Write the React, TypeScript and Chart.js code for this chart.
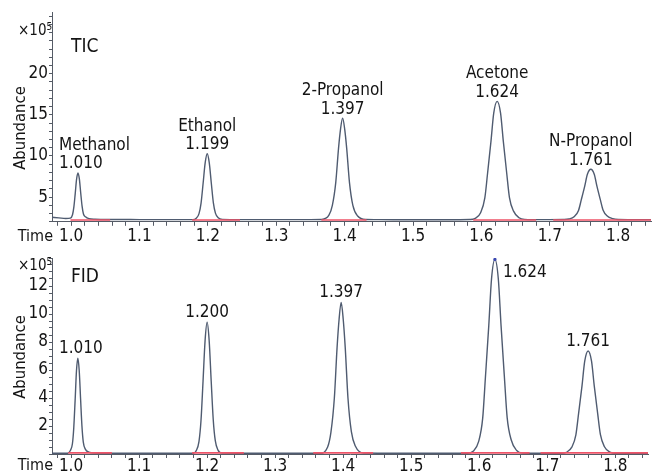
import React, { useEffect, useRef } from 'react';
import { Chart, registerables } from 'chart.js';

Chart.register(...registerables);

const FONT = "'DejaVu Sans Condensed', 'Liberation Sans Narrow', sans-serif";
const TEXT = '#141414';
const AXIS = '#555b66';
const TRACE = '#4f5b70';
const BASE_RED = '#ee5468';

// ---- axis tick labels ----
const X_TICK_VALUES = [1.0, 1.1, 1.2, 1.3, 1.4, 1.5, 1.6, 1.7, 1.8];
const X_TICK_LABELS = ['1.0', '1.1', '1.2', '1.3', '1.4', '1.5', '1.6', '1.7', '1.8'];
const TIC_Y_TICKS = [5, 10, 15, 20];
const FID_Y_TICKS = [2, 4, 6, 8, 10, 12];

// ---- peaks ----
const PEAK_NAMES = ['Methanol', 'Ethanol', '2-Propanol', 'Acetone', 'N-Propanol'];
const TIC_PEAK_RT = ['1.010', '1.199', '1.397', '1.624', '1.761'];
const FID_PEAK_RT = ['1.010', '1.200', '1.397', '1.624', '1.761'];
const FID_MARKED_PEAK = '1.624';

// ---- TIC trace (time in min, abundance x10^5) ----
const TIC_TIME = [
  0.972, 0.982, 0.992, 0.999, 1.002, 1.004, 1.006, 1.008, 1.010, 1.012, 1.014, 1.016, 1.018, 1.021, 1.026, 1.035,
  1.06, 1.10, 1.15, 1.178,
  1.183, 1.187, 1.190, 1.193, 1.196, 1.199, 1.202, 1.205, 1.208, 1.211, 1.215, 1.221,
  1.25, 1.30, 1.35,
  1.366, 1.377, 1.382, 1.387, 1.391, 1.394, 1.397, 1.400, 1.403, 1.407, 1.412, 1.419, 1.431,
  1.45, 1.50, 1.55,
  1.583, 1.591, 1.599, 1.605, 1.609, 1.614, 1.618, 1.623, 1.628, 1.632, 1.637, 1.641, 1.647, 1.655, 1.663,
  1.69,
  1.720, 1.728, 1.736, 1.742, 1.746, 1.751, 1.755, 1.760, 1.765, 1.769, 1.774, 1.778, 1.784, 1.792, 1.800,
  1.82, 1.848,
];
const TIC_ABUNDANCE = [
  2.55, 2.48, 2.40, 2.45, 2.85, 3.81, 5.46, 7.21, 7.95, 7.21, 5.50, 3.90, 2.95, 2.60, 2.38, 2.31,
  2.28, 2.27, 2.26, 2.26,
  2.44, 3.00, 4.28, 6.68, 9.16, 10.28, 9.16, 6.68, 4.30, 3.05, 2.50, 2.30,
  2.27, 2.26, 2.26,
  2.28, 2.80, 4.00, 6.80, 10.90, 13.30, 14.60, 13.30, 10.90, 6.80, 4.00, 2.70, 2.28,
  2.26, 2.25, 2.25,
  2.28, 2.42, 3.14, 4.90, 7.90, 11.80, 15.20, 16.64, 15.20, 11.80, 7.90, 4.95, 3.30, 2.50, 2.30,
  2.26,
  2.28, 2.34, 2.65, 3.38, 4.66, 6.31, 7.77, 8.38, 7.77, 6.31, 4.66, 3.40, 2.70, 2.38, 2.28,
  2.26, 2.26,
];

// ---- FID trace ----
const FID_TIME = [
  0.972, 0.995, 0.999, 1.002, 1.004, 1.006, 1.008, 1.010, 1.012, 1.014, 1.016, 1.018, 1.021, 1.026, 1.035,
  1.06, 1.18,
  1.184, 1.188, 1.191, 1.194, 1.197, 1.200, 1.203, 1.206, 1.209, 1.212, 1.216, 1.222,
  1.30, 1.36,
  1.366, 1.377, 1.382, 1.387, 1.391, 1.394, 1.397, 1.400, 1.403, 1.407, 1.412, 1.418, 1.430,
  1.50, 1.575,
  1.583, 1.591, 1.599, 1.605, 1.609, 1.614, 1.618, 1.623, 1.628, 1.632, 1.637, 1.641, 1.647, 1.655, 1.663,
  1.69,
  1.720, 1.728, 1.736, 1.742, 1.746, 1.751, 1.755, 1.760, 1.765, 1.769, 1.774, 1.778, 1.784, 1.792, 1.800,
  1.848,
];
const FID_ABUNDANCE = [
  0.05, 0.05, 0.25, 0.73, 1.88, 3.85, 5.96, 6.84, 5.96, 3.95, 2.00, 0.85, 0.35, 0.14, 0.07,
  0.05, 0.05,
  0.24, 0.89, 2.39, 5.20, 8.10, 9.41, 8.10, 5.20, 2.45, 0.95, 0.28, 0.07,
  0.05, 0.05,
  0.05, 0.48, 1.56, 4.00, 7.60, 9.64, 10.83, 9.64, 7.60, 4.00, 1.60, 0.55, 0.07,
  0.05, 0.05,
  0.05, 0.19, 0.88, 2.54, 5.45, 9.19, 12.50, 13.90, 12.50, 9.19, 5.45, 2.60, 1.00, 0.25, 0.07,
  0.05,
  0.05, 0.12, 0.49, 1.37, 2.90, 4.87, 6.63, 7.36, 6.63, 4.87, 2.90, 1.40, 0.52, 0.14, 0.05,
  0.05,
];

// ---- integration baselines (red) ----
const TIC_BASE_START = [0.999, 1.177, 1.366, 1.588, 1.705];
const TIC_BASE_END = [1.057, 1.247, 1.432, 1.680, 1.848];
const FID_BASE_START = [0.996, 1.178, 1.356, 1.573, 1.690];
const FID_BASE_END = [1.060, 1.254, 1.444, 1.674, 1.848];

const X_MIN = 0.972;
const X_MAX = 1.848;

type PanelCfg = {
  title: string;
  time: number[];
  abundance: number[];
  baseStart: number[];
  baseEnd: number[];
  baseLevel: number;
  yMin: number;
  yMax: number;
  yStep: number;
  yLabels: number[];
  names: string[] | null;
  rts: string[];
  marked: string | null;
  canvasH: number;
  padTop: number;
  plotBottom: number;
  xPad: number;
  titleDy: number;
  expDy: number;
  abundanceY: number;
  labelGap: number;
};

const TIC_CFG: PanelCfg = {
  title: 'TIC',
  time: TIC_TIME,
  abundance: TIC_ABUNDANCE,
  baseStart: TIC_BASE_START,
  baseEnd: TIC_BASE_END,
  baseLevel: 2.22,
  yMin: 2,
  yMax: 27.5,
  yStep: 1,
  yLabels: TIC_Y_TICKS,
  names: PEAK_NAMES,
  rts: TIC_PEAK_RT,
  marked: null,
  canvasH: 250,
  padTop: 12,
  plotBottom: 221.8,
  xPad: 1,
  titleDy: 40,
  expDy: 23,
  abundanceY: 128,
  labelGap: 4.5,
};

const FID_CFG: PanelCfg = {
  title: 'FID',
  time: FID_TIME,
  abundance: FID_ABUNDANCE,
  baseStart: FID_BASE_START,
  baseEnd: FID_BASE_END,
  baseLevel: 0.08,
  yMin: 0,
  yMax: 14,
  yStep: 0.5,
  yLabels: FID_Y_TICKS,
  names: null,
  rts: FID_PEAK_RT,
  marked: FID_MARKED_PEAK,
  canvasH: 237,
  padTop: 21,
  plotBottom: 217,
  xPad: -2,
  titleDy: 24,
  expDy: 11.5,
  abundanceY: 120,
  labelGap: 5,
};

function Panel({ cfg, top }: { cfg: PanelCfg; top: number }) {
  const ref = useRef<HTMLCanvasElement>(null);

  useEffect(() => {
    const canvas = ref.current;
    if (!canvas) return;

    const trace = cfg.time.map((t, i) => ({ x: t, y: cfg.abundance[i] }));
    const base: { x: number; y: number | null }[] = [];
    cfg.baseStart.forEach((s, i) => {
      const e = cfg.baseEnd[i];
      base.push({ x: s, y: cfg.baseLevel }, { x: e, y: cfg.baseLevel });
      const next = cfg.baseStart[i + 1];
      if (next !== undefined) base.push({ x: (e + next) / 2, y: null });
    });

    const apexes = cfg.rts.map((rt) => {
      const r = parseFloat(rt);
      let best: { x: number; y: number } | null = null;
      trace.forEach((p) => {
        if (Math.abs(p.x - r) < 0.012 && (!best || p.y > best.y)) best = p;
      });
      return best as unknown as { x: number; y: number };
    });

    const markerData: { x: number; y: number }[] = [];
    if (cfg.marked) {
      const idx = cfg.rts.indexOf(cfg.marked);
      if (idx >= 0) markerData.push(apexes[idx]);
    }

    const minorX: number[] = [];
    for (let k = 49; k <= 92; k++) minorX.push(Math.round(k * 2) / 100);
    const minorY: number[] = [];
    const nY = Math.floor((cfg.yMax - cfg.yMin) / cfg.yStep + 1e-9);
    for (let k = 0; k <= nY; k++) minorY.push(cfg.yMin + k * cfg.yStep);

    const textPlugin = {
      id: 'panelText',
      afterDatasetsDraw(chart: any) {
        const { ctx, chartArea: a, scales } = chart;
        const xs = scales.x;
        const ys = scales.y;
        ctx.save();
        ctx.fillStyle = TEXT;

        // panel title
        ctx.font = `19px ${FONT}`;
        ctx.textAlign = 'left';
        ctx.textBaseline = 'alphabetic';
        ctx.fillText(cfg.title, a.left + 19, a.top + cfg.titleDy);

        // exponent
        ctx.font = `15px ${FONT}`;
        ctx.textAlign = 'right';
        ctx.fillText('×10', 46.5, a.top + cfg.expDy);
        ctx.font = `10px ${FONT}`;
        ctx.textAlign = 'left';
        ctx.fillText('5', 46.5, a.top + cfg.expDy - 5);

        // y title
        ctx.save();
        ctx.translate(25, cfg.abundanceY);
        ctx.rotate(-Math.PI / 2);
        ctx.font = `16.5px ${FONT}`;
        ctx.textAlign = 'center';
        ctx.textBaseline = 'alphabetic';
        ctx.fillText('Abundance', 0, 0);
        ctx.restore();

        // x title
        ctx.font = `16px ${FONT}`;
        ctx.textAlign = 'right';
        ctx.textBaseline = 'middle';
        ctx.fillText('Time', 53, xs.top + 4 + cfg.xPad + 10.2);

        // peak labels
        ctx.font = `17px ${FONT}`;
        ctx.textBaseline = 'alphabetic';
        const capH = 12.4;
        const lineH = 18.5;
        apexes.forEach((p, i) => {
          if (!p) return;
          const px = xs.getPixelForValue(p.x);
          const py = ys.getPixelForValue(p.y);
          const lines = cfg.names ? [cfg.names[i], cfg.rts[i]] : [cfg.rts[i]];
          if (py - cfg.labelGap - capH - (lines.length - 1) * lineH < a.top) {
            ctx.textAlign = 'left';
            ctx.fillText(cfg.rts[i], px + 8, py + 18);
            return;
          }
          const w = Math.max(...lines.map((l) => ctx.measureText(l).width));
          const clamped = px - w / 2 < a.left + 7;
          lines.forEach((l, j) => {
            const by = py - cfg.labelGap - (lines.length - 1 - j) * lineH;
            if (clamped) {
              ctx.textAlign = 'left';
              ctx.fillText(l, a.left + 7, by);
            } else {
              ctx.textAlign = 'center';
              ctx.fillText(l, px, by);
            }
          });
        });
        ctx.restore();
      },
    };

    const chart = new Chart(canvas, {
      type: 'line',
      data: {
        datasets: [
          {
            data: markerData as any,
            showLine: false,
            pointRadius: 1.6,
            pointBackgroundColor: '#3a48b0',
            pointBorderWidth: 0,
            order: 0,
          },
          {
            data: base as any,
            borderColor: BASE_RED,
            borderWidth: 1.7,
            pointRadius: 0,
            spanGaps: false,
            order: 1,
          },
          {
            data: trace as any,
            borderColor: TRACE,
            borderWidth: 1.4,
            pointRadius: 0,
            cubicInterpolationMode: 'monotone',
            order: 2,
          },
        ],
      },
      options: {
        animation: false,
        responsive: false,
        devicePixelRatio: 1,
        events: [],
        layout: { padding: { top: cfg.padTop, right: 1, left: 0, bottom: 0 } },
        plugins: { legend: { display: false }, tooltip: { enabled: false }, title: { display: false } },
        scales: {
          x: {
            type: 'linear',
            min: X_MIN,
            max: X_MAX,
            afterFit: (s: any) => {
              s.height = cfg.canvasH - cfg.plotBottom;
            },
            afterBuildTicks: (s: any) => {
              s.ticks = minorX.map((v) => ({ value: v }));
            },
            ticks: {
              autoSkip: false,
              maxRotation: 0,
              minRotation: 0,
              padding: cfg.xPad,
              color: TEXT,
              font: { family: FONT, size: 17 },
              callback: (v: any) => {
                const idx = X_TICK_VALUES.findIndex((t) => Math.abs(t - Number(v)) < 1e-6);
                return idx >= 0 ? X_TICK_LABELS[idx] : '';
              },
            },
            grid: { drawOnChartArea: false, drawTicks: true, tickLength: 4, color: AXIS, lineWidth: 1 },
            border: { display: true, color: AXIS, width: 1 },
          },
          y: {
            type: 'linear',
            min: cfg.yMin,
            max: cfg.yMax,
            afterFit: (s: any) => {
              s.width = 52;
            },
            afterBuildTicks: (s: any) => {
              s.ticks = minorY.map((v) => ({ value: v }));
            },
            ticks: {
              autoSkip: false,
              padding: 1,
              color: TEXT,
              font: { family: FONT, size: 17 },
              callback: (v: any) => {
                const idx = cfg.yLabels.findIndex((t) => Math.abs(t - Number(v)) < 1e-6);
                return idx >= 0 ? String(cfg.yLabels[idx]) : '';
              },
            },
            grid: { drawOnChartArea: false, drawTicks: true, tickLength: 3, color: AXIS, lineWidth: 1 },
            border: { display: true, color: AXIS, width: 1 },
          },
        },
      } as any,
      plugins: [textPlugin],
    });

    return () => chart.destroy();
  }, [cfg]);

  return (
    <canvas
      ref={ref}
      width={652}
      height={cfg.canvasH}
      style={{ position: 'absolute', left: 0, top, width: 652, height: cfg.canvasH }}
    />
  );
}

export default function App() {
  useEffect(() => {
    document.body.style.margin = '0';
  }, []);
  return (
    <div style={{ position: 'relative', width: 652, height: 474, overflow: 'hidden', background: '#ffffff' }}>
      <Panel cfg={TIC_CFG} top={0} />
      <Panel cfg={FID_CFG} top={237} />
    </div>
  );
}
